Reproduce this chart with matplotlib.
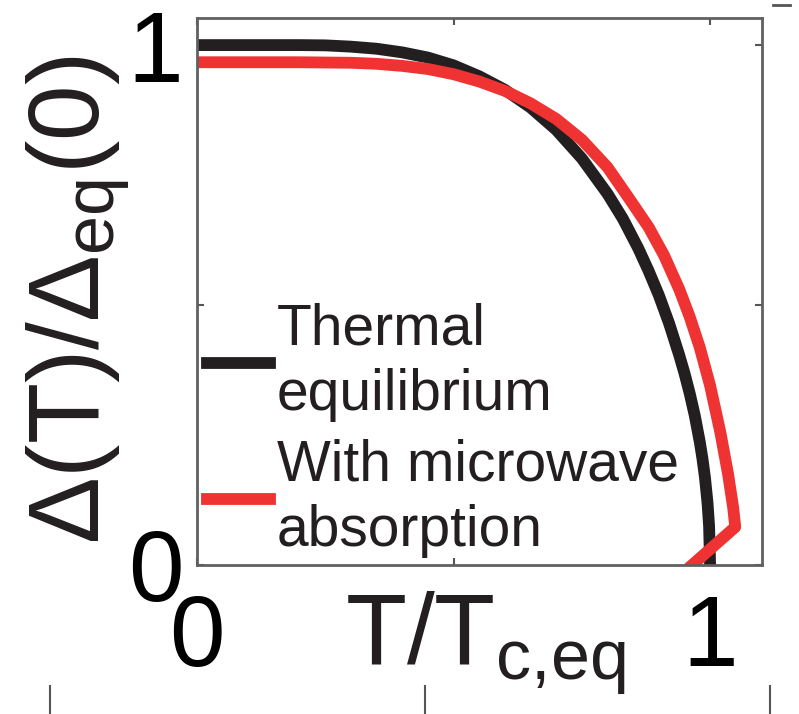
import matplotlib
matplotlib.use("Agg")
import matplotlib.pyplot as plt
from matplotlib.lines import Line2D

plt.rcParams['font.family'] = ['Liberation Sans', 'DejaVu Sans']
plt.rcParams['mathtext.fontset'] = 'custom'
plt.rcParams['mathtext.rm'] = 'Liberation Sans'
plt.rcParams['mathtext.it'] = 'Liberation Sans:italic'
plt.rcParams['mathtext.default'] = 'regular'

# gap vs temperature, thermal equilibrium (BCS-like)
t_eq = [0, 0.1, 0.2, 0.25, 0.3, 0.35, 0.4, 0.45, 0.5, 0.55, 0.6, 0.65, 0.7,
        0.75, 0.8, 0.83, 0.86, 0.88, 0.9, 0.92, 0.94, 0.95, 0.96, 0.97, 0.98,
        0.985, 0.99, 0.995, 0.998, 1.0]
gap_eq = [1.0, 1.0, 1.0, 0.9995, 0.997, 0.993, 0.986, 0.976, 0.961, 0.940,
          0.914, 0.880, 0.837, 0.782, 0.714, 0.666, 0.609, 0.566, 0.519, 0.465,
          0.403, 0.369, 0.331, 0.288, 0.236, 0.205, 0.168, 0.119, 0.075, 0.0]

# gap with microwave absorption
t_mw = [0, 0.1, 0.2, 0.3, 0.35, 0.4, 0.45, 0.5, 0.55, 0.6, 0.65, 0.7, 0.75,
        0.8, 0.84, 0.88, 0.91, 0.94, 0.96, 0.98, 1.0, 1.02, 1.035, 1.045,
        1.049, 0.965]
gap_mw = [0.967, 0.967, 0.967, 0.966, 0.964, 0.960, 0.954, 0.944, 0.930,
          0.912, 0.888, 0.858, 0.818, 0.765, 0.708, 0.650, 0.596, 0.530,
          0.478, 0.418, 0.345, 0.255, 0.175, 0.11, 0.073, 0.0]

xticks = [0, 0.5, 1]
xticklabels = ['0', '', '1']
yticks = [0, 0.5, 1]
yticklabels = ['0', '', '1']

fig = plt.figure(figsize=(7.99, 7.14), dpi=100)
ax = fig.add_axes([0.2466, 0.2087, 0.707, 0.766])

ax.plot(t_eq, gap_eq, color='#231f20', lw=8.5, label='Thermal\nequilibrium')
ax.plot(t_mw, gap_mw, color='#ef3232', lw=8.5, label='With microwave\nabsorption')

ax.set_xlim(0, 1.101)
ax.set_ylim(0, 1.052)
ax.set_xticks(xticks)
ax.set_xticklabels(xticklabels)
ax.set_yticks(yticks)
ax.set_yticklabels(yticklabels)
ax.tick_params(direction='in', length=5, width=1.5, color='#555555',
               top=True, right=True, labelsize=72, pad=10)
ax.tick_params(axis='x', pad=20)
for s in ax.spines.values():
    s.set_color('#606060')
    s.set_linewidth(2)

# axis labels
fig.text(485 / 799, 1 - 590 / 714, r'T/T$_{c{,}eq}$', fontsize=72,
         ha='center', va='top', color='#231f20')
fig.text(79 / 799, 1 - 300 / 714, r'$\Delta$(T)/$\Delta_{eq}$(0)', fontsize=72,
         ha='center', va='center', rotation=90, color='#231f20')

leg = ax.legend(loc='upper left', bbox_to_anchor=(0.0177, 0.48), frameon=False,
                fontsize=41, handlelength=1.1, handletextpad=0.12,
                labelspacing=0.28, borderaxespad=0.0, borderpad=0.0)
for t in leg.get_texts():
    t.set_linespacing(1.28)
    t.set_color('#231f20')

# stray marks at the figure edges
fig.add_artist(Line2D([773 / 799, 790 / 799], [1 - 5 / 714, 1 - 5 / 714],
                      transform=fig.transFigure, color='#555555', lw=2))
for xp in [50, 425, 770]:
    fig.add_artist(Line2D([xp / 799, xp / 799], [0, 28 / 714],
                          transform=fig.transFigure, color='#555555', lw=1.5))

fig.savefig('out.png', dpi=100)
